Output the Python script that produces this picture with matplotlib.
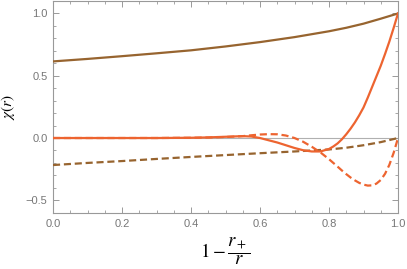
import matplotlib
matplotlib.use("Agg")
import matplotlib.pyplot as plt
from matplotlib.ticker import MultipleLocator

plt.rcParams['mathtext.fontset'] = 'stix'

# brown pair
x_brown = [0.0, 0.1, 0.2, 0.3, 0.4, 0.5, 0.6, 0.7, 0.8, 0.85, 0.9, 0.95, 1.0]
brown_solid = [0.615, 0.635, 0.657, 0.68, 0.704, 0.735, 0.77, 0.81, 0.857, 0.885, 0.918, 0.958, 1.0]
brown_dashed = [-0.217, -0.2, -0.185, -0.168, -0.152, -0.137, -0.122, -0.108, -0.092, -0.078, -0.058, -0.033, 0.0]

# orange pair
x_orange = [0.0, 0.1, 0.2, 0.3, 0.4, 0.45, 0.5, 0.55, 0.575, 0.6, 0.625, 0.65, 0.675, 0.7,
            0.725, 0.75, 0.775, 0.8, 0.8125, 0.825, 0.8375, 0.85, 0.8625, 0.875, 0.8875, 0.9,
            0.9125, 0.925, 0.9375, 0.95, 0.9625, 0.975, 0.9875, 1.0]
orange_solid = [0.0, 0.0, 0.0, 0.0, 0.002, 0.005, 0.01, 0.015, 0.012, 0.0, -0.018, -0.036, -0.058,
                -0.08, -0.098, -0.108, -0.108, -0.088, -0.068, -0.043, -0.01, 0.03, 0.075, 0.125,
                0.182, 0.245, 0.325, 0.41, 0.495, 0.58, 0.675, 0.775, 0.885, 1.0]
orange_dashed = [0.0, 0.0, 0.0, 0.0, 0.002, 0.004, 0.008, 0.015, 0.022, 0.028, 0.031, 0.03, 0.02,
                 0.0, -0.03, -0.07, -0.115, -0.17, -0.2, -0.23, -0.261, -0.29, -0.317, -0.34,
                 -0.36, -0.374, -0.382, -0.38, -0.366, -0.337, -0.287, -0.215, -0.118, 0.0]

brown = '#97642f'
orange = '#ed6430'
gray = '#999999'

fig = plt.figure(figsize=(4.07, 2.69), dpi=100)
ax = fig.add_axes([53 / 407, 56 / 269, 345 / 407, 212 / 269])

ax.axhline(0, color='#b0b0b0', lw=0.8, zorder=1)
ax.plot(x_brown, brown_solid, color=brown, lw=1.6, zorder=3)
ax.plot(x_brown, brown_dashed, color=brown, lw=1.6, dashes=(3.2, 1.7), zorder=3)
ax.plot(x_orange, orange_solid, color=orange, lw=1.6, zorder=4)
ax.plot(x_orange, orange_dashed, color=orange, lw=1.6, dashes=(3.2, 1.7), zorder=4)

ax.set_xlim(0, 1)
ax.set_ylim(-0.602, 1.1)
ax.xaxis.set_major_locator(MultipleLocator(0.2))
ax.xaxis.set_minor_locator(MultipleLocator(0.05))
ax.yaxis.set_major_locator(MultipleLocator(0.5))
ax.yaxis.set_minor_locator(MultipleLocator(0.1))
ax.set_xticklabels([f'{v:.1f}' for v in ax.get_xticks()])
ax.set_yticklabels([f'{v:.1f}'.replace('-', '\u2212') for v in ax.get_yticks()])

for s in ax.spines.values():
    s.set_color(gray)
    s.set_linewidth(0.8)
ax.tick_params(which='both', direction='in', top=True, right=True, color=gray,
               labelcolor='#777777', labelsize=8)
ax.tick_params(which='major', length=4, width=0.7, pad=4)
ax.tick_params(which='minor', length=2.3, width=0.6)
for lab in ax.get_xticklabels() + ax.get_yticklabels():
    lab.set_family('Liberation Sans')

ax.set_xlabel(r'$1-\dfrac{r_+}{r}$', fontsize=13.5, labelpad=5)
ax.set_ylabel(r'$\chi(r)$', fontsize=11, labelpad=6)

fig.savefig('out.png', dpi=100)
